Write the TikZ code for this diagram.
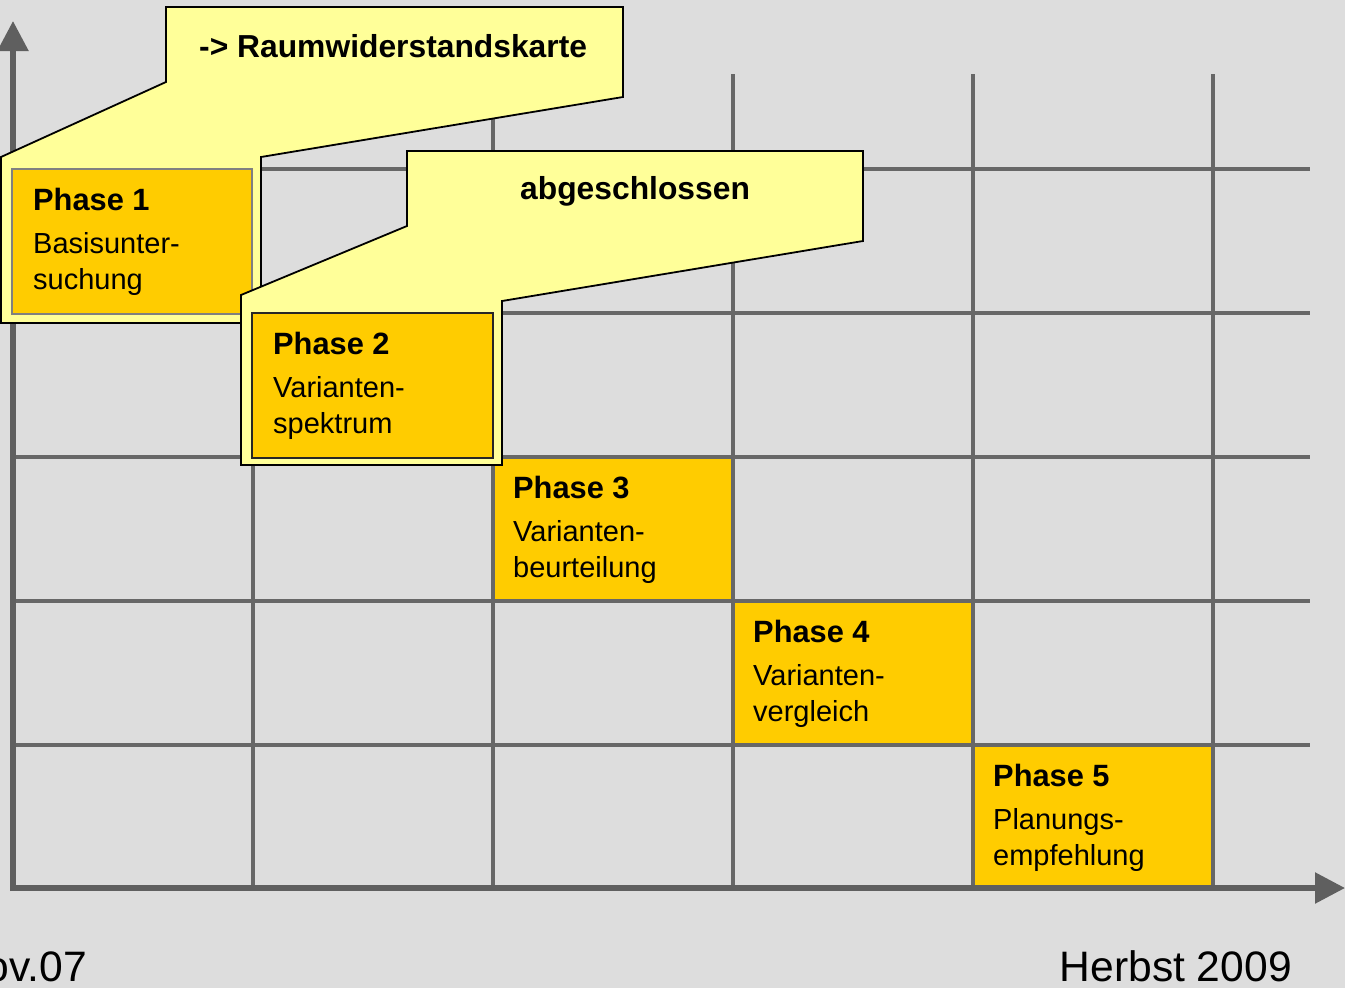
\documentclass[tikz,border=0pt]{standalone}
\usepackage{fontspec}
\setmainfont{Liberation Sans}
\usetikzlibrary{arrows.meta}
\definecolor{bg}{HTML}{DDDDDD}
\definecolor{gridc}{HTML}{676767}
\definecolor{axisc}{HTML}{5F5F5F}
\definecolor{phase}{HTML}{FFCC00}
\definecolor{note}{HTML}{FFFF99}
\begin{document}
\begin{tikzpicture}[x=1pt,y=-1pt,
  gridline/.style={draw=gridc,line width=3.5pt},
  axisline/.style={draw=axisc,line width=5.5pt,-{Triangle[length=30pt,width=30pt]}},
  callout/.style={fill=note,draw=black,line width=1.8pt,line join=miter},
  phasebox/.style={fill=phase,inner sep=0pt,anchor=north west,minimum width=240pt,minimum height=144pt},
  titletext/.style={anchor=base west,inner sep=0pt,font=\fontsize{30.8}{36}\selectfont\bfseries},
  bodytext/.style={anchor=base west,inner sep=0pt,font=\fontsize{29}{35}\selectfont},
  notetext/.style={anchor=base west,inner sep=0pt,font=\fontsize{31.8}{36}\selectfont\bfseries},
  datetext/.style={anchor=base east,inner sep=0pt,font=\fontsize{42.6}{48}\selectfont},
]
\clip (0,0) rectangle (1345,988);
\fill[bg] (0,0) rectangle (1345,988);

% phase boxes on the grid
\node[phasebox] (p3) at (493,457) {};
\node[phasebox] (p4) at (733,601) {};
\node[phasebox] (p5) at (973,745) {};

% grid
\foreach \yy in {169,313,457,601,745} \draw[gridline] (13,\yy) -- (1310,\yy);
\foreach \xx in {253,493,733,973,1213} \draw[gridline] (\xx,888) -- (\xx,74);

% axes
\coordinate (origin) at (13,891);
\coordinate (ytip) at (13,21);
\coordinate (xstart) at (10,888);
\coordinate (xtip) at (1345,888);
\draw[axisline] (origin) -- (ytip);
\draw[axisline] (xstart) -- (xtip);

% callout 1
\draw[callout] (166,7) -- (623,7) -- (623,97) -- (261,157) -- (261,323) -- (1,323) -- (1,157) -- (166,82) -- cycle;
\node[phasebox,minimum width=240pt,minimum height=145pt,draw=gray,line width=1.5pt] (p1) at (11,168) {};

% callout 2
\draw[callout] (407,151) -- (863,151) -- (863,241) -- (502,301) -- (502,465) -- (241,465) -- (241,295) -- (407,226) -- cycle;
\node[phasebox,minimum width=241pt,minimum height=145pt,draw=black!85,line width=1.8pt] (p2) at (251,312) {};

% texts
\foreach \n/\x/\y/\a/\b in {1/13/169/Basisunter-/suchung,2/253/313/Varianten-/spektrum,3/493/457/Varianten-/beurteilung,4/733/601/Varianten-/vergleich,5/973/745/Planungs-/empfehlung}{
  \node[titletext] (t\n) at (\x+20,\y+41.5) {Phase \n};
  \node[bodytext] (a\n) at (\x+20,\y+84) {\a};
  \node[bodytext] (b\n) at (\x+20,\y+120) {\b};
}
\node[notetext] (n1) at (199,57) {-> Raumwiderstandskarte};
\node[notetext] (n2) at (520,199) {abgeschlossen};

\node[datetext] (d1) at (87,981) {Nov.07};
\node[datetext] (d2) at (1292,981) {Herbst 2009};
\end{tikzpicture}
\end{document}
